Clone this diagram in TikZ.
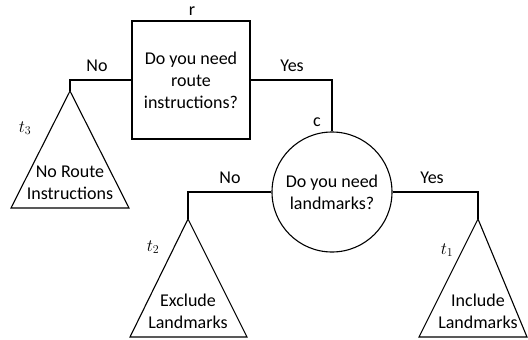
\documentclass[tikz,border=0pt]{standalone}
\usepackage{fontspec}
\setmainfont{Carlito}
\begin{document}
\begin{tikzpicture}[x=1pt,y=-1pt,line width=1.1pt,
  font=\fontsize{18}{22}\selectfont,
  question/.style={draw,align=center,inner sep=0pt},
  leaftext/.style={align=center,inner sep=0pt},
  lbl/.style={inner sep=0pt},
  leaf/.style={draw,line join=miter}]
\useasboundingbox (0,0) rectangle (528,340);

% decision nodes
\node[question,rectangle,minimum width=118,minimum height=118] (r) at (191,80)
  {Do you need\\route\\instructions?};
\node[question,circle,minimum size=120] (c) at (332,192)
  {Do you need\\landmarks?};

% leaf apexes
\coordinate (a3) at (70,91);
\coordinate (a2) at (188,219);
\coordinate (a1) at (478,219);

% leaf triangles
\draw[leaf] (a3) -- (11,208) -- (129,208) -- cycle;
\draw[leaf] (a2) -- (130,337) -- (247,337) -- cycle;
\draw[leaf] (a1) -- (419,337) -- (527,337) -- cycle;

\node[leaftext] (l3) at (70,183) {No Route\\Instructions};
\node[leaftext] (l2) at (188,311) {Exclude\\Landmarks};
\node[leaftext] (l1) at (478,311) {Include\\Landmarks};

% branches
\draw (r.west) -| (a3);
\draw (r.east) -| (c.north);
\draw (c.west) -| (a2);
\draw (c.east) -| (a1);

% labels
\node[lbl] (rl) at (192,11) {r};
\node[lbl] (cl) at (317,122) {c};
\node[lbl] (no1) at (97,66) {No};
\node[lbl] (yes1) at (292,66) {Yes};
\node[lbl] (no2) at (230,178) {No};
\node[lbl] (yes2) at (432,178) {Yes};
\node[lbl] (t3) at (25,128) {$t_3$};
\node[lbl] (t2) at (153,247) {$t_2$};
\node[lbl] (t1) at (447,250) {$t_1$};
\end{tikzpicture}
\end{document}
